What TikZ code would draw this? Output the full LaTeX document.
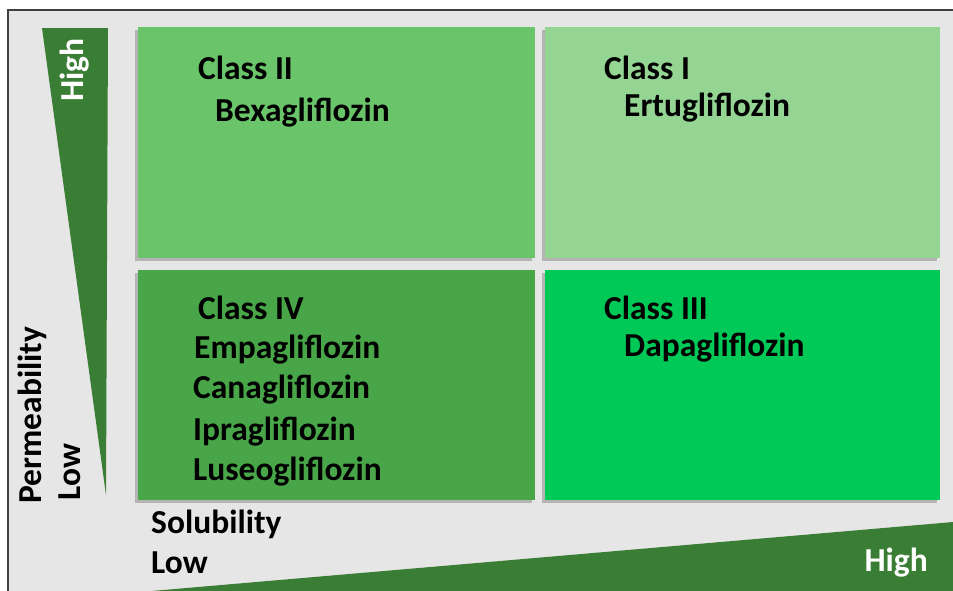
\documentclass[tikz,border=0pt]{standalone}
\usepackage{fontspec}
\setmainfont{Carlito}
\usetikzlibrary{shadows}

\definecolor{frameback}{HTML}{E6E6E6}
\definecolor{wedgegreen}{HTML}{3A7D34}
\definecolor{classone}{HTML}{94D594}
\definecolor{classtwo}{HTML}{6AC46A}
\definecolor{classthree}{HTML}{00C957}
\definecolor{classfour}{HTML}{48A548}

\tikzset{
  quadrant/.style={draw=none, drop shadow={shadow xshift=-3pt, shadow yshift=-3pt, fill=black!45, opacity=0.55}},
  lbl/.style={font=\bfseries\fontsize{33.5}{36}\selectfont, inner sep=0pt, anchor=west},
  axislbl/.style={lbl, anchor=center}
}

\begin{document}
\begin{tikzpicture}[x=1pt, y=-1pt]
\useasboundingbox (0,0) rectangle (953,590);
\fill[white] (0,0) rectangle (953,590);
\draw[fill=frameback, draw=black!75, line width=1.2pt] (8,10) rectangle (960,596);

	% wedges for the two axes
	\fill[wedgegreen] (42,28) -- (108,28) -- (106,495) -- cycle;
	\fill[wedgegreen] (140,592) -- (953,522) -- (953,592) -- cycle;

	% the four classes
	\fill[classtwo, quadrant] (138,27) rectangle (535,258);
	\fill[classone, quadrant] (545,27) rectangle (940,258);
	\fill[classfour, quadrant] (138,270) rectangle (535,500);
	\fill[classthree, quadrant] (545,270) rectangle (940,500);

	\node[lbl] (c2) at (198,68) {Class II};
	\node[lbl] (bexa) at (215,113) {Bexagliflozin};
	\node[lbl] (c1) at (604,68) {Class I};
	\node[lbl] (ertu) at (624,108) {Ertugliflozin};
	\node[lbl] (c4) at (198,308) {Class IV};
	\node[lbl] (empa) at (194,350) {Empagliflozin};
	\node[lbl] (cana) at (193,390) {Canagliflozin};
	\node[lbl] (ipra) at (193,432) {Ipragliflozin};
	\node[lbl] (luse) at (193,472) {Luseogliflozin};
	\node[lbl] (c3) at (604,308) {Class III};
	\node[lbl] (dapa) at (624,348) {Dapagliflozin};

	% axis labels
	\node[axislbl, rotate=90] (permhigh) at (75,70) {\color{white}High};
	\node[axislbl, rotate=90] (perm) at (32,415) {Permeability};
	\node[axislbl, rotate=90] (permlow) at (70,472) {Low};
	\node[lbl] (sol) at (151,524) {Solubility};
	\node[lbl] (sollow) at (151,563) {Low};
	\node[lbl, anchor=east] (solhigh) at (928,563) {\color{white}High};
\end{tikzpicture}
\end{document}
